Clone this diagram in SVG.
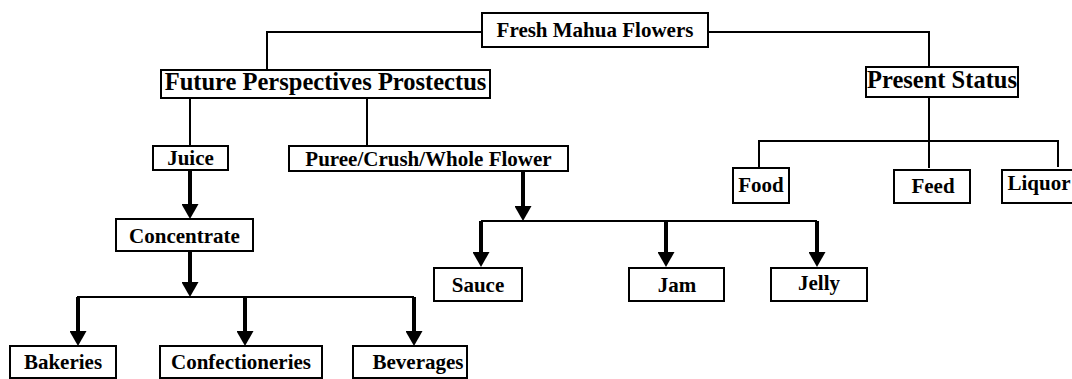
<svg xmlns="http://www.w3.org/2000/svg" width="1072" height="379" viewBox="0 0 1072 379">
<style>
.box{fill:#fff;stroke:#000;stroke-width:2}
.t{font-family:"Liberation Serif","Times New Roman",serif;font-weight:bold;font-size:21px;text-anchor:middle;fill:#000}
.h{font-size:24.5px}
.c{fill:none;stroke:#000;stroke-width:2}
.a{fill:none;stroke:#000;stroke-width:4;marker-end:url(#ah)}
</style>
<defs>
<marker id="ah" viewBox="0 0 15 17" refX="7" refY="8.5" markerWidth="15" markerHeight="17" markerUnits="userSpaceOnUse" orient="auto">
<path d="M0,0 L15,8.5 L0,17 z" fill="#000"/>
</marker>
</defs>
<rect width="1072" height="379" fill="#fff"/>
<g id="connectors">
<path class="c" d="M267,70 V32 H482"/>
<path class="c" d="M708,32 H929 V67"/>
<path class="c" d="M190,98 V146"/>
<path class="c" d="M367,98 V146"/>
<path class="c" d="M929,97 V168"/>
<path class="c" d="M759,168 V141 H1058 V167"/>
<path class="c" d="M77,297 H414"/>
<path class="c" d="M481,221 H817"/>
<path class="a" d="M190,170 V211"/>
<path class="a" d="M190,251 V289"/>
<path class="a" d="M78,297 V338"/>
<path class="a" d="M245,297 V338"/>
<path class="a" d="M414,297 V338"/>
<path class="a" d="M523,171 V213"/>
<path class="a" d="M481,221 V259"/>
<path class="a" d="M666,221 V259"/>
<path class="a" d="M817,221 V259"/>
</g>
<g id="fresh"><rect class="box" x="482" y="13" width="226" height="34"/><text class="t" x="595" y="37">Fresh Mahua Flowers</text></g>
<g id="future"><rect class="box" x="161" y="70" width="329" height="28"/><text class="t h" x="325.5" y="90">Future Perspectives Prostectus</text></g>
<g id="present"><rect class="box" x="866" y="67" width="152" height="30"/><text class="t h" x="942" y="88">Present Status</text></g>
<g id="juice"><rect class="box" x="153" y="146" width="75" height="24"/><text class="t" x="190.5" y="165">Juice</text></g>
<g id="puree"><rect class="box" x="289" y="146" width="279" height="25"/><text class="t" x="428.5" y="166">Puree/Crush/Whole Flower</text></g>
<g id="concentrate"><rect class="box" x="116" y="219" width="137" height="32"/><text class="t" x="184.5" y="243">Concentrate</text></g>
<g id="bakeries"><rect class="box" x="10" y="346" width="106" height="32"/><text class="t" x="63" y="369">Bakeries</text></g>
<g id="confectioneries"><rect class="box" x="160" y="346" width="162" height="32"/><text class="t" x="241" y="369">Confectioneries</text></g>
<g id="beverages"><rect class="box" x="353" y="346" width="114" height="32"/><text class="t" x="418" y="369">Beverages</text></g>
<g id="sauce"><rect class="box" x="434" y="268" width="88" height="33"/><text class="t" x="478" y="292">Sauce</text></g>
<g id="jam"><rect class="box" x="629" y="268" width="95" height="33"/><text class="t" x="677" y="292">Jam</text></g>
<g id="jelly"><rect class="box" x="771" y="268" width="96" height="33"/><text class="t" x="819" y="290">Jelly</text></g>
<g id="food"><rect class="box" x="733" y="168" width="56" height="35"/><text class="t" x="761" y="192">Food</text></g>
<g id="feed"><rect class="box" x="894" y="170" width="76" height="33"/><text class="t" x="933" y="193">Feed</text></g>
<g id="liquor"><rect class="box" x="1002" y="170" width="72" height="33"/><text class="t" x="1039" y="190">Liquor</text></g>
</svg>
